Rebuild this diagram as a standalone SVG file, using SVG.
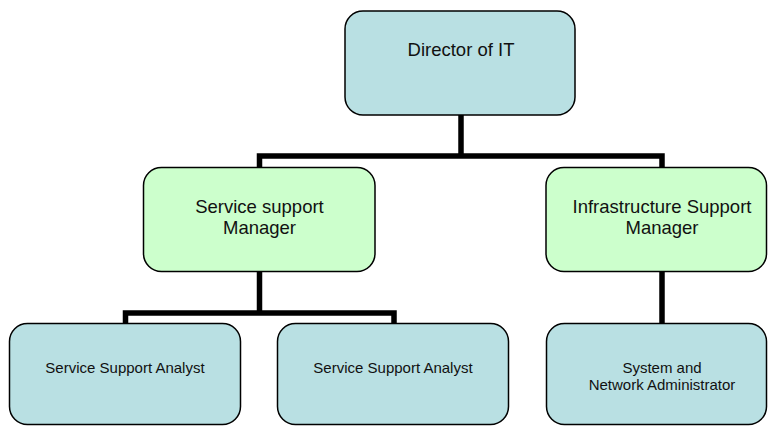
<svg xmlns="http://www.w3.org/2000/svg" width="768" height="426" viewBox="0 0 768 426">
<style>
.blue{fill:#b9e0e3;stroke:#000;stroke-width:1.5}
.green{fill:#ccffcc;stroke:#000;stroke-width:1.5}
.conn{fill:none;stroke:#000;stroke-width:5.5;stroke-linejoin:miter}
text{font-family:"Liberation Sans",Arial,sans-serif;fill:#111;text-anchor:middle}
.big{font-size:18.5px}
.small{font-size:15px}
</style>
<rect width="768" height="426" fill="#fff"/>
<g id="connectors">
<path class="conn" d="M461 115 V156"/>
<path class="conn" d="M259.5 167 V156 H662 V167"/>
<path class="conn" d="M259.5 272 V313"/>
<path class="conn" d="M125.5 323 V313 H394 V323"/>
<path class="conn" d="M662 272 V323"/>
</g>
<g id="director">
<rect class="blue" x="345" y="11" width="230" height="104" rx="18"/>
<text class="big" x="461" y="56">Director of IT</text>
</g>
<g id="service-manager">
<rect class="green" x="143.5" y="167.5" width="231.5" height="104" rx="18"/>
<text class="big" x="259.5" y="212.5">Service support</text>
<text class="big" x="259.5" y="234">Manager</text>
</g>
<g id="infra-manager">
<rect class="green" x="546" y="167.5" width="220.5" height="104" rx="18"/>
<text class="big" x="662" y="212.5">Infrastructure Support</text>
<text class="big" x="662" y="234">Manager</text>
</g>
<g id="analyst1">
<rect class="blue" x="9.5" y="323.5" width="231" height="101" rx="18"/>
<text class="small" x="125" y="373">Service Support Analyst</text>
</g>
<g id="analyst2">
<rect class="blue" x="277.5" y="323.5" width="231" height="101" rx="18"/>
<text class="small" x="393" y="373">Service Support Analyst</text>
</g>
<g id="sysadmin">
<rect class="blue" x="546.5" y="323.5" width="220" height="101" rx="18"/>
<text class="small" x="662" y="373">System and</text>
<text class="small" x="662" y="390">Network Administrator</text>
</g>
</svg>
